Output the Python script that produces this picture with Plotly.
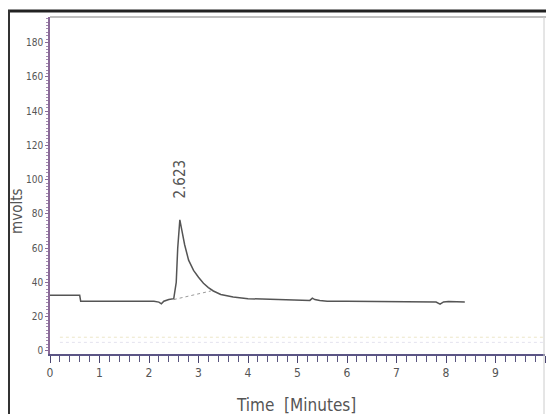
import plotly.graph_objects as go

# Chromatogram trace (Time in minutes, signal in mvolts)
time_min = [0.0, 0.6, 0.62, 1.0, 2.1, 2.2, 2.25, 2.3, 2.4, 2.5, 2.55, 2.58, 2.6, 2.623,
            2.66, 2.72, 2.8, 2.9, 3.0, 3.1, 3.2, 3.3, 3.45, 3.7, 4.0, 4.5, 5.0,
            5.25, 5.3, 5.35, 5.45, 5.6, 6.0, 7.0, 7.8, 7.88, 7.95, 8.05, 8.38]
signal_mv = [32.5, 32.5, 29.0, 29.0, 29.0, 28.5, 27.5, 29.0, 30.0, 30.5, 40.0, 60.0, 70.0, 76.5,
             71.0, 62.0, 53.0, 47.0, 43.0, 39.5, 37.0, 35.0, 33.0, 31.5, 30.5, 30.0, 29.7,
             29.5, 30.8, 30.0, 29.5, 29.0, 29.0, 28.7, 28.5, 27.3, 28.6, 28.8, 28.6]

# Integration baseline under the peak
base_t = [2.5, 3.25]
base_mv = [30.0, 35.0]

peak_time = 2.623
peak_label = "2.623"

x_ticks = list(range(0, 11))
y_ticks = list(range(0, 181, 20))

# Pixel helpers for the plot area (left 50, right 545, top 17, bottom 354)
L, R, T, B = 50, 545, 17, 354
def px(xp): return (xp - L) / (R - L)
def py(yp): return (B - yp) / (B - T)

fig = go.Figure()

fig.add_trace(go.Scatter(x=base_t, y=base_mv, mode="lines",
                         line=dict(color="#9a9a9a", width=1, dash="dot"),
                         hoverinfo="skip", showlegend=False))
fig.add_trace(go.Scatter(x=time_min, y=signal_mv, mode="lines",
                         line=dict(color="#555555", width=1.5),
                         showlegend=False))

font_fam = "Liberation Sans Narrow, DejaVu Sans Condensed, Roboto Condensed, Arial Narrow, Liberation Sans, sans-serif"

fig.update_layout(
    width=546, height=414,
    margin=dict(l=L, r=546 - R, t=T, b=414 - B),
    paper_bgcolor="white", plot_bgcolor="white",
    font=dict(family=font_fam, color="#555555", size=11),
    xaxis=dict(range=[0, 10], tickvals=x_ticks, ticktext=[str(v) for v in x_ticks],
               automargin=False,
               showgrid=False, zeroline=False, showline=True,
               linecolor="#5b5585", linewidth=2,
               ticks="outside", ticklen=7, tickcolor="#4a4570", tickwidth=1.2,
               minor=dict(dtick=0.2, ticks="outside", ticklen=6, tickcolor="#5a5580", tickwidth=1),
               tickfont=dict(size=12, color="#555555")),
    yaxis=dict(range=[-1.8, 195], tickvals=y_ticks, ticktext=[str(v) for v in y_ticks],
               automargin=False,
               showgrid=False, zeroline=False, showline=True,
               linecolor="#8a6a98", linewidth=1.5,
               ticks="outside", ticklen=3, tickcolor="#8a6a98",
               minor=dict(dtick=2, ticks="outside", ticklen=2, tickcolor="#a48ab0"),
               tickfont=dict(size=10, color="#555555")),
    annotations=[
        dict(x=peak_time, y=88, xref="x", yref="y", text=peak_label,
             textangle=-90, showarrow=False, yanchor="bottom",
             font=dict(size=15, color="#555555")),
        dict(x=px(17), y=py(212), xref="paper", yref="paper", text="mvolts",
             textangle=-90, showarrow=False, xanchor="center", yanchor="middle",
             font=dict(size=15, color="#555555")),
        dict(x=px(296), y=py(405), xref="paper", yref="paper", text="Time  [Minutes]",
             showarrow=False, xanchor="center", yanchor="middle",
             font=dict(size=17, color="#555555")),
    ],
    shapes=[
        # outer black frame
        dict(type="line", xref="paper", yref="paper", x0=px(8), x1=px(546), y0=py(11), y1=py(11),
             line=dict(color="#222222", width=3)),
        dict(type="line", xref="paper", yref="paper", x0=px(9), x1=px(9), y0=py(10), y1=py(414),
             line=dict(color="#333333", width=2)),
        # inner top line
        dict(type="line", xref="paper", yref="paper", x0=px(50), x1=px(546), y0=py(17), y1=py(17),
             line=dict(color="#aaaaaa", width=1.5)),
        dict(type="line", xref="paper", yref="paper", x0=px(544), x1=px(544), y0=py(17), y1=py(414),
             line=dict(color="#cccccc", width=1)),
        # faint dotted trace below baseline
        dict(type="line", xref="x", yref="y", x0=0.2, x1=10, y0=8, y1=8,
             line=dict(color="#ece6c8", width=1, dash="dot")),
        dict(type="line", xref="x", yref="y", x0=0.2, x1=10, y0=5, y1=5,
             line=dict(color="#e4e2ee", width=1, dash="dot")),
    ],
)

fig.write_html("out.html", config={"displayModeBar": False},
               post_script="document.body.style.margin='0';document.body.style.overflow='hidden';")
